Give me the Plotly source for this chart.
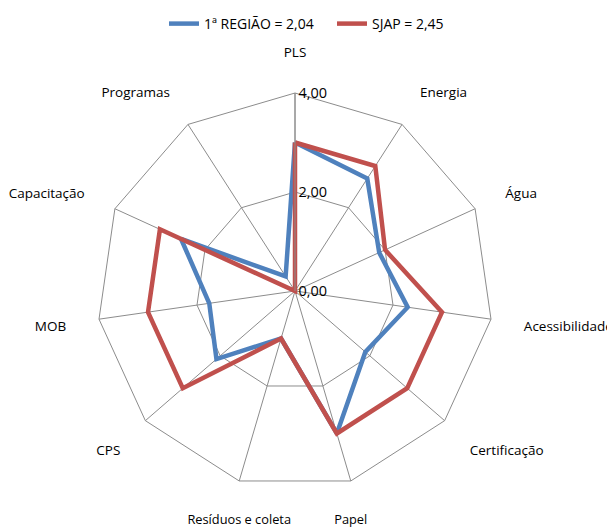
import plotly.graph_objects as go

categories = ["PLS", "Energia", "Água", "Acessibilidade", "Certificação", "Papel",
              "Resíduos e coleta", "CPS", "MOB", "Capacitação", "Programas"]
regiao_values = [3.0, 2.7, 1.87, 2.3, 1.88, 3.0, 1.0, 2.1, 1.75, 2.53, 0.35]
sjap_values = [3.0, 3.0, 2.0, 3.0, 3.0, 3.0, 1.0, 3.0, 3.0, 3.0, 0.0]
series_names = ["1ª REGIÃO = 2,04", "SJAP = 2,45"]
radial_ticks = [0, 2, 4]
# labels drawn centred below their spokes (like the original) instead of as axis ticks
bottom_labels = ["Papel", "Resíduos e coleta"]

FONT = "Open Sans"
RMAX = 4

def closed(v):
    return list(v) + [v[0]]

fig = go.Figure()
fig.add_trace(go.Scatterpolar(
    r=closed(regiao_values), theta=closed(categories), mode="lines",
    name=series_names[0], line=dict(color="#4F81BD", width=4.5)))
fig.add_trace(go.Scatterpolar(
    r=closed(sjap_values), theta=closed(categories), mode="lines",
    name=series_names[1], line=dict(color="#C0504D", width=4.5)))
fig.add_trace(go.Scatterpolar(
    r=[RMAX] * len(bottom_labels), theta=bottom_labels, mode="text",
    text=["<br><br>" + t for t in bottom_labels], textposition="bottom center",
    cliponaxis=False,
    textfont=dict(family=FONT, size=12.8, color="#000000"),
    showlegend=False, hoverinfo="skip"))

tick_text = ["" if c in bottom_labels else c for c in categories]

W, H = 615, 527
cx, cy, R = 287, 283, 198
fig.update_layout(
    width=W, height=H,
    margin=dict(l=0, r=0, t=0, b=0, pad=0),
    paper_bgcolor="white",
    separators=",.",
    font=dict(family=FONT, size=12, color="#000000"),
    legend=dict(orientation="h", x=156 / W, xanchor="left", y=1.0, yanchor="top",
                font=dict(size=14), entrywidth=123),
    polar=dict(
        domain=dict(x=[(cx - R) / W, (cx + R) / W],
                    y=[(H - cy - R) / H, (H - cy + R) / H]),
        bgcolor="white",
        gridshape="linear",
        radialaxis=dict(range=[0, RMAX], tickvals=radial_ticks, tickformat=".2f",
                        angle=90, tickangle=90, showline=True, linecolor="#8C8C8C",
                        linewidth=1, gridcolor="#8C8C8C", gridwidth=1,
                        ticks="", tickfont=dict(size=14.5), side="clockwise"),
        angularaxis=dict(rotation=90, direction="clockwise", gridcolor="#8C8C8C",
                         gridwidth=1, showline=True, linecolor="#8C8C8C", linewidth=1,
                         tickmode="array", tickvals=categories, ticktext=tick_text,
                         ticks="outside", ticklen=30, tickcolor="rgba(0,0,0,0)",
                         tickfont=dict(size=13.5)),
    ),
)
fig.write_html("out.html")
